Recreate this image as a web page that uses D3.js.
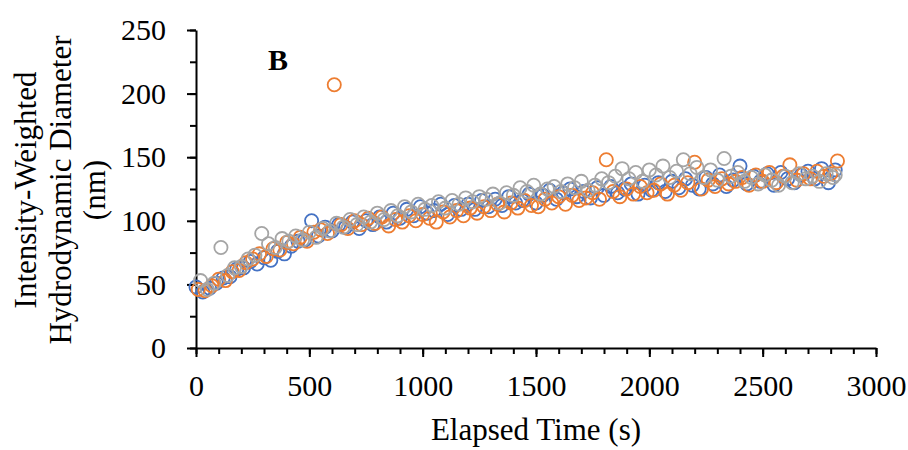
<!DOCTYPE html>
<html>
<head>
<meta charset="utf-8">
<script src="https://cdn.jsdelivr.net/npm/d3@7"></script>
<style>
  body { margin: 0; background: #fff; }
  svg text { font-family: "Liberation Serif", "Times New Roman", serif; fill: #000; }
</style>
</head>
<body>
<svg id="chart" width="908" height="450"></svg>
<script>
// Elapsed time of each reading (s); the three runs are staggered by 10 s
var times1 = [
     0,   30,   60,   90,  120,  150,  180,  210,  240,  270,
   300,  330,  360,  390,  420,  450,  480,  510,  540,  570,
   600,  630,  660,  690,  720,  750,  780,  810,  840,  870,
   900,  930,  960,  990, 1020, 1050, 1080, 1110, 1140, 1170,
  1200, 1230, 1260, 1290, 1320, 1350, 1380, 1410, 1440, 1470,
  1500, 1530, 1560, 1590, 1620, 1650, 1680, 1710, 1740, 1770,
  1800, 1830, 1860, 1890, 1920, 1950, 1980, 2010, 2040, 2070,
  2100, 2130, 2160, 2190, 2220, 2250, 2280, 2310, 2340, 2370,
  2400, 2430, 2460, 2490, 2520, 2550, 2580, 2610, 2640, 2670,
  2700, 2730, 2760, 2790, 2820
];
var times2 = [
    10,   40,   70,  100,  130,  160,  190,  220,  250,  280,
   310,  340,  370,  400,  430,  460,  490,  520,  550,  580,
   610,  640,  670,  700,  730,  760,  790,  820,  850,  880,
   910,  940,  970, 1000, 1030, 1060, 1090, 1120, 1150, 1180,
  1210, 1240, 1270, 1300, 1330, 1360, 1390, 1420, 1450, 1480,
  1510, 1540, 1570, 1600, 1630, 1660, 1690, 1720, 1750, 1780,
  1810, 1840, 1870, 1900, 1930, 1960, 1990, 2020, 2050, 2080,
  2110, 2140, 2170, 2200, 2230, 2260, 2290, 2320, 2350, 2380,
  2410, 2440, 2470, 2500, 2530, 2560, 2590, 2620, 2650, 2680,
  2710, 2740, 2770, 2800, 2830
];
var times3 = [
    20,   50,   80,  110,  140,  170,  200,  230,  260,  290,
   320,  350,  380,  410,  440,  470,  500,  530,  560,  590,
   620,  650,  680,  710,  740,  770,  800,  830,  860,  890,
   920,  950,  980, 1010, 1040, 1070, 1100, 1130, 1160, 1190,
  1220, 1250, 1280, 1310, 1340, 1370, 1400, 1430, 1460, 1490,
  1520, 1550, 1580, 1610, 1640, 1670, 1700, 1730, 1760, 1790,
  1820, 1850, 1880, 1910, 1940, 1970, 2000, 2030, 2060, 2090,
  2120, 2150, 2180, 2210, 2240, 2270, 2300, 2330, 2360, 2390,
  2420, 2450, 2480, 2510, 2540, 2570, 2600, 2630, 2660, 2690,
  2720, 2750, 2780, 2810, 2820
];

// Diameters (nm) for each run
var run1 = [
   48,  44,  47,  51,  55,  56,  62,  63,  68,  66,
   71,  69,  76,  74,  80,  84,  85, 100,  88,  95,
   92,  97,  95,  99,  94, 100,  97, 103,  99, 106,
  102, 109, 104, 111, 106, 108, 113, 105, 112, 109,
  113, 109, 116, 111, 117, 112, 119, 114, 116, 121,
  114, 120, 124, 117, 122, 125, 119, 123, 118, 126,
  120, 127, 122, 125, 129, 121, 128, 124, 130, 123,
  131, 126, 133, 128, 125, 134, 129, 136, 127, 132,
  143, 129, 135, 131, 137, 128, 138, 133, 130, 136,
  139, 133, 141, 130, 140
];
var run2 = [
   46,  45,  49,  54,  53,  60,  61,  67,  70,  74,
   72,  78,  77,  83,  82,  87,  84,  91,  93,  90,
  207,  97,  94, 100,  97, 102,  98, 103,  96, 101,
   99, 104, 100, 105, 102,  99, 107, 103, 108, 104,
  110, 106, 111, 108, 113, 107, 114, 110, 116, 112,
  111, 117, 114, 119, 113, 120, 116, 118, 122, 117,
  148, 123, 119, 125, 121, 127, 122, 124, 129, 121,
  128, 124, 130, 146, 125, 132, 127, 133, 129, 131,
  134, 128, 136, 131, 138, 130, 135, 144, 132, 137,
  133, 139, 135, 137, 147
];
var run3 = [
   53,  46,  51,  79,  57,  63,  64,  70,  73,  90,
   82,  79,  86,  84,  88,  85,  91,  87,  94,  92,
   98,  95, 101,  97, 103,  99, 106, 101, 108, 104,
  111, 107, 113, 109, 112, 115, 110, 116, 113, 118,
  115, 119, 117, 121, 114, 122, 120, 126, 123, 128,
  121, 125, 127, 123, 129, 126, 131, 124, 128, 133,
  130, 135, 141, 133, 138, 131, 140, 136, 143, 134,
  139, 148, 137, 142, 134, 140, 132, 149, 135, 138,
  131, 134, 129, 136, 132, 128, 135, 130, 137, 133,
  135, 131, 137, 134, 136
];

var xTicks = [0, 500, 1000, 1500, 2000, 2500, 3000];
var yTicks = [0, 50, 100, 150, 200, 250];
var xMinorTicks = d3.range(0, 3001, 100);
var yMinorTicks = d3.range(0, 251, 25);

var seriesColors = ["#4472C4", "#ED7D31", "#A5A5A5"];
var allRuns = [
  { t: times1, v: run1 },
  { t: times2, v: run2 },
  { t: times3, v: run3 }
];

var svg = d3.select("#chart");

var x = d3.scaleLinear().domain([0, 3000]).range([196, 876]);
var y = d3.scaleLinear().domain([0, 250]).range([348, 30]);

// minor ticks first (no labels), then the labelled major axis over them
svg.append("g")
  .attr("transform", "translate(0,348)")
  .call(d3.axisBottom(x).tickValues(xMinorTicks).tickSize(6).tickSizeOuter(0).tickFormat(""))
  .call(g => g.select(".domain").remove());
svg.append("g")
  .attr("transform", "translate(196,0)")
  .call(d3.axisLeft(y).tickValues(yMinorTicks).tickSize(6).tickSizeOuter(0).tickFormat(""))
  .call(g => g.select(".domain").remove());

svg.append("g")
  .attr("transform", "translate(0,348)")
  .call(d3.axisBottom(x).tickValues(xTicks).tickSize(9).tickSizeOuter(0)
    .tickPadding(18).tickFormat(d3.format("d")));
svg.append("g")
  .attr("transform", "translate(196,0)")
  .call(d3.axisLeft(y).tickValues(yTicks).tickSize(9).tickSizeOuter(0)
    .tickPadding(21).tickFormat(d3.format("d")));

svg.selectAll(".tick line, .domain")
  .attr("stroke", "#000")
  .attr("stroke-width", 2);
svg.selectAll(".tick text")
  .attr("font-family", "Liberation Serif, Times New Roman, serif")
  .attr("font-size", 30)
  .attr("fill", "#000");

// one group per run, drawn blue -> orange -> grey
allRuns.forEach((run, k) => {
  svg.append("g")
    .selectAll("circle")
    .data(run.v.map((v, i) => ({ t: run.t[i], v: v })))
    .join("circle")
    .attr("cx", d => x(d.t))
    .attr("cy", d => y(d.v))
    .attr("r", 6.6)
    .attr("fill", "none")
    .attr("stroke", seriesColors[k])
    .attr("stroke-width", 1.8);
});

// axis titles
svg.append("text")
  .attr("x", 536)
  .attr("y", 440)
  .attr("text-anchor", "middle")
  .attr("font-size", 31)
  .text("Elapsed Time (s)");

var yTitle = ["Intensity-Weighted", "Hydrodynamic Diameter", "(nm)"];
var yTitleX = [36, 71, 105];
yTitle.forEach((line, i) => {
  svg.append("text")
    .attr("transform", "translate(" + yTitleX[i] + ",190) rotate(-90)")
    .attr("text-anchor", "middle")
    .attr("font-size", 31)
    .text(line);
});

// panel letter
svg.append("text")
  .attr("x", 268)
  .attr("y", 70)
  .attr("font-size", 30)
  .attr("font-weight", "bold")
  .text("B");
</script>
</body>
</html>
